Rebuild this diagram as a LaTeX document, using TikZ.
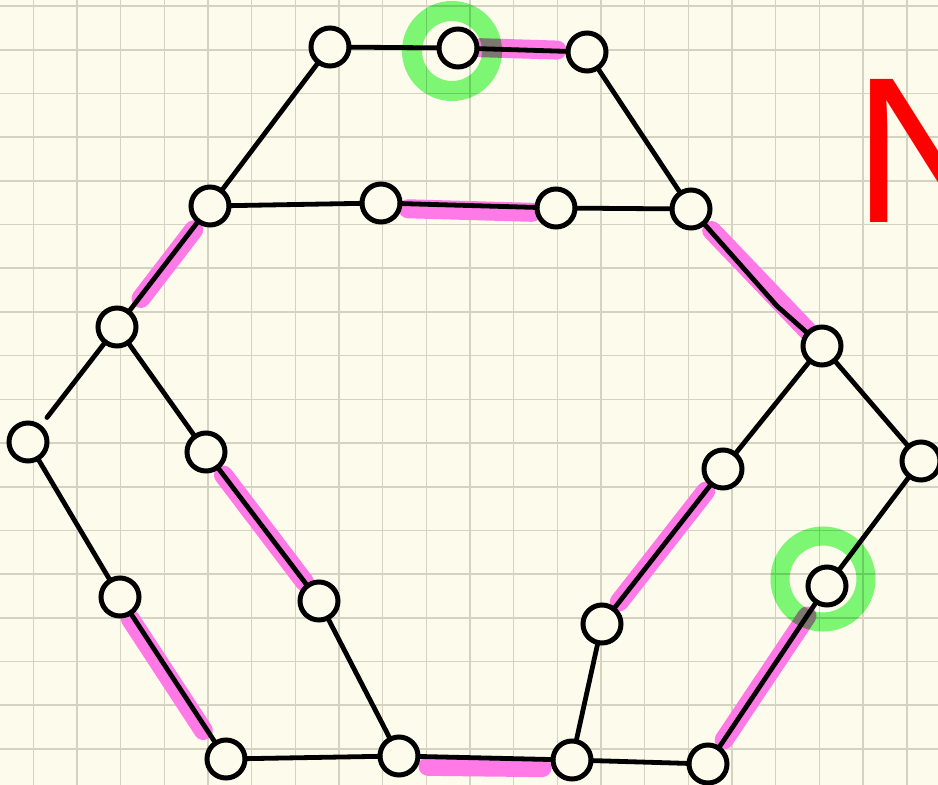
\documentclass[tikz,border=0pt]{standalone}
\usepackage{fontspec}
\newfontfamily\nfont{Liberation Sans}
\definecolor{paper}{RGB}{253,251,236}
\definecolor{gridc}{RGB}{214,210,194}
\definecolor{hipink}{RGB}{255,122,230}
\definecolor{ringgreen}{RGB}{125,250,125}
\tikzset{
  vtx/.style={circle, draw=black, fill=paper, line width=5pt, minimum size=38pt, inner sep=0pt, outer sep=0pt},
  edge/.style={draw=black, line width=4.8pt, line cap=round},
  hilite/.style={draw=hipink, line width=19pt, line cap=round},
  ring/.style={draw=ringgreen, blend mode=multiply},
  gridline/.style={draw=gridc, line width=1.6pt}
}
\begin{document}
\begin{tikzpicture}[x=1pt,y=-1pt]
\useasboundingbox (0,0) rectangle (938,785);
\clip (0,0) rectangle (938,785);
\fill[paper] (0,0) rectangle (938,785);
% grid
\foreach \i in {0,...,20} \draw[gridline] (33.3+43.67*\i,0) -- (33.3+43.67*\i,785);
\foreach \j in {0,...,17} \draw[gridline] (0,6+43.7*\j) -- (938,6+43.7*\j);
% red letter
\node[anchor=base west, inner sep=0pt, outer sep=0pt, text=red, font=\nfont\fontsize{208}{208}\selectfont] (bigN) at (853,222.7) {N};
% vertices (positions only)
\coordinate (pa1) at (330,47);
\coordinate (pa2) at (458,48);
\coordinate (pa3) at (587,52);
\coordinate (pb1) at (210,206);
\coordinate (pb2) at (381,203);
\coordinate (pb3) at (556,208);
\coordinate (pb4) at (691,209);
\coordinate (pc1) at (117,327);
\coordinate (pd) at (28,442);
\coordinate (pe) at (206,452);
\coordinate (pf) at (120,597);
\coordinate (pg) at (319,601);
\coordinate (ph1) at (226,759);
\coordinate (ph2) at (399,756);
\coordinate (ph3) at (572,760);
\coordinate (ph4) at (708,764);
\coordinate (pr1) at (822,346);
\coordinate (pr2) at (723,469);
\coordinate (pr3) at (921,461);
\coordinate (pr4) at (827,586);
\coordinate (pr5) at (602,624);
\coordinate (kink) at (777,306);
% pink highlights
\draw[hilite, shorten <=22pt, shorten >=30pt] ([yshift=1pt]pa2) -- ([yshift=1pt]pa3);
\draw[hilite, shorten <=27pt, shorten >=24pt] ([yshift=-5pt]pb2) -- ([yshift=-5pt]pb3);
\draw[hilite, shorten <=30pt, shorten >=36pt] ([xshift=2pt]pb1) -- ([xshift=2pt]pc1);
\draw[hilite, shorten <=27pt, shorten >=4pt] ([xshift=2pt,yshift=-2pt]pb4) -- ([xshift=2pt,yshift=-2pt]pr1);
\draw[hilite, shorten <=29pt, shorten >=24pt] (pe) -- (pg);
\draw[hilite, shorten <=26pt, shorten >=34pt] ([xshift=-4pt]pf) -- ([xshift=-4pt]ph1);
\draw[hilite, shorten <=29pt, shorten >=30pt] ([yshift=-10pt]ph2) -- ([yshift=-8pt]ph3);
\draw[hilite, shorten <=28pt, shorten >=28pt] (pr5) -- (pr2);
\draw[hilite, shorten <=36pt, shorten >=29pt] (pr4) -- (ph4);
% nodes
\foreach \n in {a1,a2,a3,b1,b2,b3,b4,c1,d,e,f,g,h1,h2,h3,h4,r1,r2,r3,r4,r5}
  \node[vtx] (\n) at (p\n) {};
% black edges
\draw[edge] (a1) -- (a2);
\draw[edge] (a2) -- (a3);
\draw[edge] (a1) -- (b1);
\draw[edge] (a3) -- (b4);
\draw[edge] (b1) -- (b2);
\draw[edge] (b2) -- (b3);
\draw[edge] (b3) -- (b4);
\draw[edge] (b1) -- (c1);
\draw[edge] (b4) -- (kink) -- (r1);
\draw[edge, shorten >=12pt] (c1) -- (d);
\draw[edge] (c1) -- (e);
\draw[edge] (d) -- (f);
\draw[edge] (e) -- (g);
\draw[edge] (f) -- (h1);
\draw[edge] (g) -- (h2);
\draw[edge] (h1) -- (h2);
\draw[edge] (h2) -- (h3);
\draw[edge] (h3) -- (h4);
\draw[edge] (h3) -- (r5);
\draw[edge] (r5) -- (r2);
\draw[edge] (r2) -- (r1);
\draw[edge] (r1) -- (r3);
\draw[edge] (r3) -- (r4);
\draw[edge] (r4) -- (h4);
% green rings
\draw[ring, line width=20pt] ([xshift=-6pt,yshift=-3pt]a2.center) circle (40pt);
\draw[ring, line width=19pt] ([xshift=-4pt,yshift=7pt]r4.center) circle (43pt);
\end{tikzpicture}
\end{document}
